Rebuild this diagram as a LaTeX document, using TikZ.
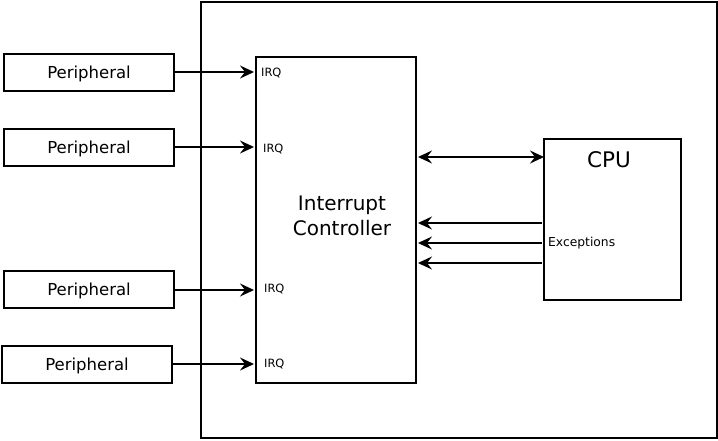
\documentclass[tikz,border=0pt]{standalone}
\usepackage{fontspec}
\setmainfont{DejaVu Sans}
\usetikzlibrary{arrows.meta}
\begin{document}
\begin{tikzpicture}[x=1pt,y=-1pt,
  box/.style={draw,line width=2pt,inner sep=0pt},
  arr/.style={line width=2pt,-{Stealth[length=14pt,width=13pt,inset=5pt]}},
  biarr/.style={line width=2pt,{Stealth[length=14pt,width=13pt,inset=5pt]}-{Stealth[length=14pt,width=13pt,inset=5pt]}},
  periph/.style={box,minimum width=170pt,minimum height=37pt},
  ptext/.style={anchor=base,inner sep=0pt,font=\fontsize{16.5}{18}\selectfont},
  irq/.style={anchor=west,inner sep=0pt,font=\fontsize{11.4}{12}\selectfont}
]
\useasboundingbox (0,0) rectangle (718,440);
\node[box,minimum width=516pt,minimum height=436pt] (outer) at (459,220) {};
\node[box,minimum width=160pt,minimum height=326pt] (ic) at (336,220) {};
\node[align=center,font=\fontsize{20}{25}\selectfont] (ictext) at (342,215.4) {Interrupt\\Controller};
\node[box,minimum width=137pt,minimum height=161pt] (cpu) at (612.5,219.5) {};
\node[anchor=base,inner sep=0pt,font=\fontsize{21.5}{24}\selectfont] (cputext) at (609,167) {CPU};
\node[periph] (p1) at (89,72) {};
\node[periph] (p2) at (89,147) {};
\node[periph] (p3) at (89,289) {};
\node[periph] (p4) at (87,364) {};
\foreach \p in {p1,p2,p3,p4}
  \node[ptext] (\p t) at ([yshift=-6pt]\p.center) {Peripheral};
\coordinate (i1) at (254,72);
\coordinate (i2) at (254,147);
\coordinate (i3) at (254,290);
\coordinate (i4) at (254,364);
\draw[arr] (p1.east) -- (i1);
\draw[arr] (p2.east) -- (i2);
\draw[arr] (p3.east |- i3) -- (i3);
\draw[arr] (p4.east) -- (i4);
\node[irq] (q1) at (261,73) {IRQ};
\node[irq] (q2) at (263,149) {IRQ};
\node[irq] (q3) at (264,289) {IRQ};
\node[irq] (q4) at (264,364) {IRQ};
\coordinate (b1) at (418,157);
\coordinate (b2) at (544,157);
\draw[biarr] (b1) -- (b2);
\coordinate (e1) at (542,223);
\coordinate (e2) at (542,243);
\coordinate (e3) at (542,263);
\draw[arr] (e1) -- (418,223);
\draw[arr] (e2) -- (418,243);
\draw[arr] (e3) -- (418,263);
\node[irq,font=\fontsize{12.3}{13}\selectfont] (exc) at (548,243) {Exceptions};
\end{tikzpicture}
\end{document}
